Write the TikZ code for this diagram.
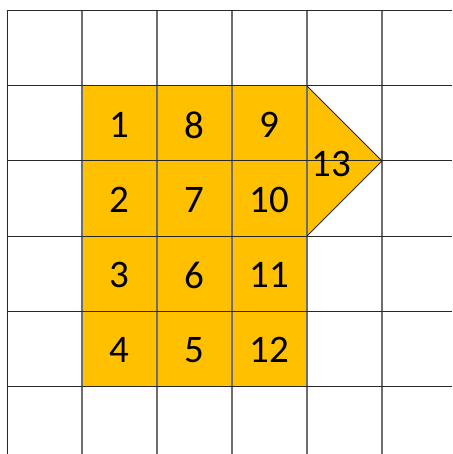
\documentclass[tikz,border=0pt]{standalone}
\usepackage{fontspec}
\setmainfont{Carlito}
\definecolor{gold}{HTML}{FFC000}
\definecolor{vline}{RGB}{110,110,110}
\definecolor{hline}{RGB}{40,40,40}
\tikzset{
  vgrid/.style={draw=vline,line width=1.3pt},
  hgrid/.style={draw=hline,line width=1pt},
  num/.style={font=\fontsize{39}{39}\selectfont,inner sep=0pt,anchor=center},
}
\begin{document}
\begin{tikzpicture}[x=1pt,y=-1pt]
\useasboundingbox (0,0) rectangle (452,454);
\fill[white] (0,0) rectangle (452,454);
% orange region
\fill[gold] (82,86) -- (307,86) -- (382,161) -- (307,236) -- (307,386) -- (82,386) -- cycle;
% grid
\foreach \x in {82,157,232,307,382} \draw[vgrid] (\x,11) -- (\x,454);
\draw[hgrid] (7,11) -- (7,454);
\foreach \y in {11,86,161,236,311,386} \draw[hgrid] (7,\y) -- (452,\y);
% triangle edges
\draw[hline,line width=0.8pt] (307,86) -- (382,161) -- (307,236);
% numbers
\node[num] (n1) at (119.5,125) {1};
\node[num] (n2) at (119.5,200) {2};
\node[num] (n3) at (119.5,275) {3};
\node[num] (n4) at (119.5,350) {4};
\node[num] (n8) at (194.5,125) {8};
\node[num] (n7) at (194.5,200) {7};
\node[num] (n6) at (194.5,275) {6};
\node[num] (n5) at (194.5,350) {5};
\node[num] (n9) at (269.5,125) {9};
\node[num] (n10) at (269.5,200) {10};
\node[num] (n11) at (269.5,275) {11};
\node[num] (n12) at (269.5,350) {12};
\node[num] (n13) at (331,164) {13};
\end{tikzpicture}
\end{document}
